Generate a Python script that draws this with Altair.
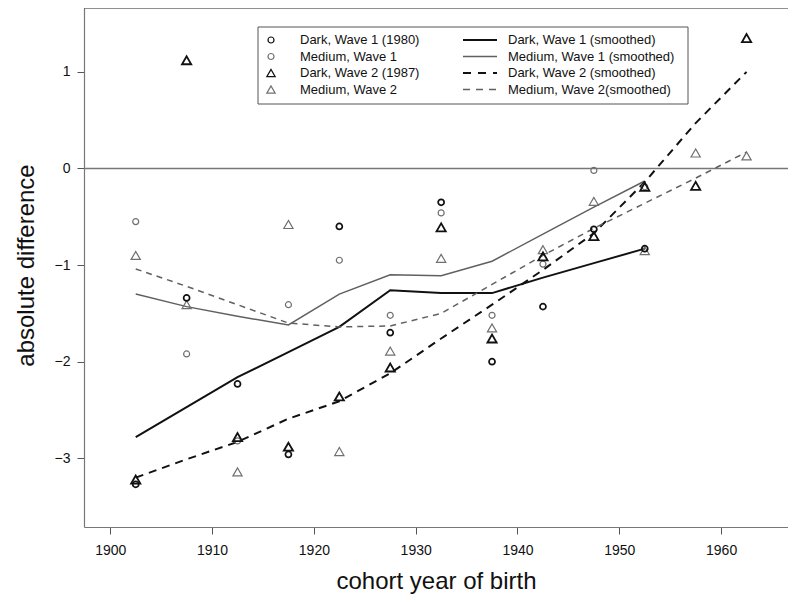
import altair as alt
import pandas as pd

# ---------------- data ----------------
cohorts = [1902.5, 1907.5, 1912.5, 1917.5, 1922.5, 1927.5, 1932.5,
           1937.5, 1942.5, 1947.5, 1952.5, 1957.5, 1962.5]
cohorts_w1 = cohorts[:11]

dark_w1 = [-3.27, -1.34, -2.23, -2.96, -0.60, -1.70, -0.35, -2.00, -1.43, -0.63, -0.83]
medium_w1 = [-0.55, -1.92, -2.82, -1.41, -0.95, -1.52, -0.46, -1.52, -0.99, -0.02, -0.19]
dark_w2 = [-3.22, 1.12, -2.78, -2.88, -2.36, -2.06, -0.61, -1.76, -0.91, -0.70, -0.19, -0.18, 1.35]
medium_w2 = [-0.90, -1.41, -3.14, -0.58, -2.93, -1.89, -0.93, -1.65, -0.84, -0.34, -0.85, 0.16, 0.13]

dark_w1_smooth = [-2.78, -2.47, -2.16, -1.90, -1.64, -1.26, -1.29, -1.29, -1.13, -0.98, -0.83]
medium_w1_smooth = [-1.30, -1.43, -1.53, -1.62, -1.30, -1.10, -1.11, -0.96, -0.68, -0.40, -0.13]
dark_w2_smooth = [-3.20, -3.01, -2.83, -2.59, -2.41, -2.12, -1.76, -1.41, -1.05, -0.67, -0.14, 0.47, 1.00]
medium_w2_smooth = [-1.04, -1.22, -1.41, -1.60, -1.64, -1.63, -1.50, -1.20, -0.90, -0.62, -0.36, -0.10, 0.17]

x_ticks = [1900, 1910, 1920, 1930, 1940, 1950, 1960]
y_ticks = [-3, -2, -1, 0, 1]

legend_points = ["Dark, Wave 1 (1980)", "Medium, Wave 1", "Dark, Wave 2 (1987)", "Medium, Wave 2"]
legend_lines = ["Dark, Wave 1 (smoothed)", "Medium, Wave 1 (smoothed)",
                "Dark, Wave 2 (smoothed)", "Medium, Wave 2(smoothed)"]

# ---------------- styling ----------------
FONT = "Liberation Sans"
W, H = 704, 519
DARK = "#111111"
MED_PT = "#707070"
MED_LN = "#606060"

xs = alt.Scale(domain=[1897.42, 1966.57], nice=False, zero=False)
ys = alt.Scale(domain=[-3.711, 1.661], nice=False, zero=False)

xax = alt.Axis(values=x_ticks, format="d", title="cohort year of birth", grid=False,
               tickSize=7, tickColor="#555555", domainColor="#777777", domainWidth=1.2,
               labelFont=FONT, labelFontSize=14, labelColor="#111111", labelPadding=9,
               titleFont=FONT, titleFontSize=24, titleFontWeight="normal", titleColor="#111111",
               titleBaseline="alphabetic", titleY=61)
yax = alt.Axis(values=y_ticks, format="d", title="absolute difference", grid=False,
               tickSize=7, tickColor="#555555", domainColor="#777777", domainWidth=1.2,
               labelFont=FONT, labelFontSize=14, labelColor="#111111", labelPadding=7,
               titleFont=FONT, titleFontSize=24, titleFontWeight="normal", titleColor="#111111",
               titleBaseline="alphabetic", titleX=-51, titleY=257, titleAlign="center")


def enc(chart):
    return chart.encode(x=alt.X("year:Q", scale=xs, axis=xax),
                        y=alt.Y("diff:Q", scale=ys, axis=yax))


def points(xv, yv, shape, color, size, sw):
    df = pd.DataFrame({"year": xv, "diff": yv})
    return enc(alt.Chart(df).mark_point(shape=shape, filled=False, color=color,
                                        size=size, strokeWidth=sw, opacity=1))


def line(xv, yv, color, sw, dash=None):
    df = pd.DataFrame({"year": xv, "diff": yv})
    kw = dict(color=color, strokeWidth=sw)
    if dash:
        kw["strokeDash"] = dash
    return enc(alt.Chart(df).mark_line(**kw))


zero = alt.Chart(pd.DataFrame({"diff": [0]})).mark_rule(color="#777777", strokeWidth=1.5).encode(
    y=alt.Y("diff:Q", scale=ys, axis=yax))

top_frame = alt.Chart(alt.Data(values=[{}])).mark_rule(color="#222222", strokeWidth=1.2).encode(
    x=alt.value(0), x2=alt.value(W), y=alt.value(0))

layers = [
    zero,
    line(cohorts_w1, dark_w1_smooth, DARK, 2.0),
    line(cohorts_w1, medium_w1_smooth, MED_LN, 1.5),
    line(cohorts, dark_w2_smooth, DARK, 2.0, [8, 6]),
    line(cohorts, medium_w2_smooth, MED_LN, 1.5, [6, 5]),
    points(cohorts_w1, medium_w1, "circle", MED_PT, 36, 1.2),
    points(cohorts, medium_w2, "triangle-up", MED_PT, 85, 1.2),
    points(cohorts_w1, dark_w1, "circle", DARK, 36, 1.7),
    points(cohorts, dark_w2, "triangle-up", DARK, 85, 1.8),
    top_frame,
]

# ---------------- legend (hand-built, R style two columns) ----------------
box = alt.Chart(alt.Data(values=[{}])).mark_rect(fill="white", stroke="#555555", strokeWidth=1).encode(
    x=alt.value(174), x2=alt.value(604), y=alt.value(19), y2=alt.value(96))
layers.append(box)

row_y = [32, 48.5, 65, 81.5]
pt_styles = [("circle", DARK, 36), ("circle", MED_PT, 36),
             ("triangle-up", DARK, 70), ("triangle-up", MED_PT, 70)]
ln_styles = [(DARK, 2.0, None), (MED_LN, 1.5, None), (DARK, 2.0, [8, 7]), (MED_LN, 1.5, [7, 6])]

for i in range(4):
    shp, col, sz = pt_styles[i]
    layers.append(alt.Chart(alt.Data(values=[{}])).mark_point(
        shape=shp, filled=False, color=col, size=sz, strokeWidth=1.2, opacity=1).encode(
        x=alt.value(187), y=alt.value(row_y[i])))
    layers.append(alt.Chart(alt.Data(values=[{"label": legend_points[i]}])).mark_text(
        align="left", baseline="middle", font=FONT, fontSize=13, color="#111111").encode(
        x=alt.value(216), y=alt.value(row_y[i]), text="label:N"))
    col2, sw2, dash2 = ln_styles[i]
    kw = dict(color=col2, strokeWidth=sw2)
    if dash2:
        kw["strokeDash"] = dash2
    layers.append(alt.Chart(alt.Data(values=[{}])).mark_rule(**kw).encode(
        x=alt.value(379), x2=alt.value(413), y=alt.value(row_y[i])))
    layers.append(alt.Chart(alt.Data(values=[{"label": legend_lines[i]}])).mark_text(
        align="left", baseline="middle", font=FONT, fontSize=13, color="#111111").encode(
        x=alt.value(424), y=alt.value(row_y[i]), text="label:N"))

chart = alt.layer(*layers).properties(
    width=W, height=H,
    padding={"left": 76, "top": 0, "right": 0, "bottom": 67},
    autosize=alt.AutoSizeParams(type="none"),
).configure_view(stroke=None)

chart.save("out.html", embed_options={"renderer": "svg", "actions": False})
